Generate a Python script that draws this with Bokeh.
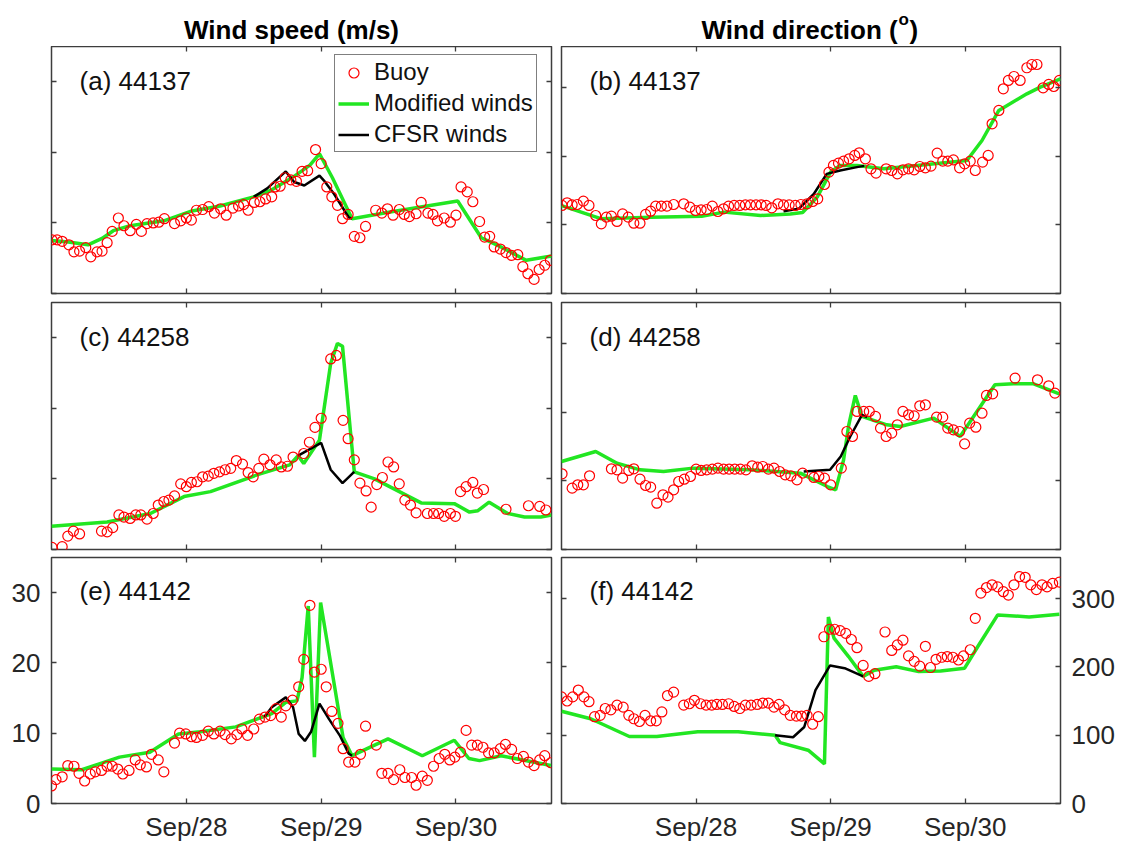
from bokeh.plotting import figure
from bokeh.models import Range1d, LinearAxis, FixedTicker, Legend, LegendItem, Label
from bokeh.layouts import column, row
from bokeh.embed import file_html
from bokeh.resources import INLINE
from bokeh.core.properties import value

FONT = "Liberation Sans"
FRAME = "#3d3d3d"
TICK_TEXT = "#262626"
RED = "#ff0000"
GREEN = "#22e622"

# time axis: hours since 27 Sep 00:00
tick_hours = [24, 48, 72]
tick_labels = ["Sep/28", "Sep/29", "Sep/30"]
speed_ticks = [0, 10, 20, 30]
dir_ticks = [0, 100, 200, 300]
stations = ["44137", "44258", "44142"]

# ---------------- station 44137 ----------------
buoy_t_44137_spd = [0.1, 1.0, 1.9, 3.1, 4.0, 5.0, 6.1, 7.0, 8.1, 9.0,
                    9.9, 10.8, 11.9, 12.9, 14.0, 15.1, 16.0, 17.0, 18.1, 19.1,
                    20.1, 21.9, 23.0, 24.0, 24.9, 25.8, 26.9, 28.0, 29.0, 30.1,
                    31.1, 32.3, 33.3, 34.2, 35.0, 36.1, 37.1, 38.1, 39.2, 39.8,
                    40.7, 41.6, 42.6, 43.6, 44.6, 45.6, 47.0, 48.0, 49.0, 49.9,
                    50.9, 51.8, 52.8, 53.9, 54.9, 55.9, 57.7, 58.8, 59.8, 60.8,
                    61.9, 62.8, 63.7, 64.9, 65.8, 67.0, 67.9, 68.7, 69.9, 71.0,
                    72.0, 72.9, 74.0, 75.0, 76.2, 77.1, 78.0, 78.8, 79.9, 80.9,
                    81.9, 83.0, 83.9, 84.8, 85.9, 86.8, 87.8, 88.8]
buoy_spd_44137 = [7.6, 7.6, 7.4, 6.9, 5.9, 6.0, 6.5, 5.2, 5.9, 6.0,
                  7.2, 8.8, 10.7, 9.6, 8.9, 9.8, 8.8, 9.9, 10.0, 10.1,
                  10.6, 9.9, 10.3, 10.7, 10.4, 11.8, 11.9, 12.3, 11.4, 12.0,
                  11.1, 12.1, 12.4, 12.6, 11.8, 12.9, 13.0, 13.4, 13.7, 15.1,
                  15.2, 16.4, 16.1, 15.9, 17.3, 17.4, 20.4, 18.4, 15.1, 13.7,
                  12.5, 10.6, 11.2, 8.1, 7.9, 9.5, 11.8, 11.4, 12.0, 11.1,
                  11.9, 11.2, 10.9, 11.3, 12.9, 11.4, 11.2, 10.3, 10.7, 10.1,
                  11.1, 15.1, 14.4, 13.0, 10.2, 8.0, 8.1, 6.6, 6.3, 5.8,
                  5.4, 5.5, 3.8, 2.8, 2.0, 3.4, 4.0, 4.7]
mod_t_44137_spd = [0, 3, 6.5, 9, 11, 14, 20, 25, 30, 36, 39, 43, 46, 47.7,
                   50, 53.5, 60, 66, 72.3, 76.5, 80, 84.5, 89]
mod_spd_44137 = [7.5, 7.3, 6.9, 7.8, 8.9, 9.6, 10.3, 11.7, 12.4, 13.7, 14.6, 16.5, 18.2, 19.8,
                 16.4, 10.6, 11.5, 12.3, 13.1, 7.9, 6.6, 4.7, 5.3]
cfsr_t_44137_spd = [36, 38.4, 41.7, 43.2, 45, 47.7, 48.5, 50.3, 52.9, 53.5]
cfsr_spd_44137 = [13.7, 14.9, 17.3, 15.8, 15.3, 16.7, 16.0, 14.1, 10.8, 10.6]

buoy_t_44137_dir = [0.1, 1.0, 1.9, 2.8, 3.9, 4.9, 6.1, 7.1, 8.0, 8.9,
                    9.9, 10.9, 11.9, 12.9, 14.0, 15.0, 15.9, 16.8, 17.8, 18.8,
                    20.0, 21.8, 22.9, 23.9, 24.9, 25.9, 26.9, 27.9, 28.9, 29.8,
                    30.8, 31.8, 32.8, 33.7, 34.7, 35.6, 36.5, 37.5, 38.6, 39.6,
                    40.6, 41.7, 42.7, 43.8, 44.8, 45.7, 46.9, 47.7, 48.5, 49.4,
                    50.3, 51.3, 52.3, 53.1, 54.2, 55.2, 56.1, 57.9, 58.9, 59.9,
                    60.9, 61.9, 62.9, 63.9, 64.9, 65.9, 67.0, 68.0, 68.9, 69.9,
                    71.0, 71.9, 72.9, 73.8, 75.1, 76.1, 76.8, 78.0, 78.8, 79.7,
                    80.7, 81.8, 83.0, 83.9, 84.8, 85.9, 86.9, 87.8, 88.8]
buoy_dir_44137 = [128.3, 132.2, 129.2, 129.7, 134.6, 128.3, 113.7, 101.5, 111.3, 112.7,
                  105.0, 116.1, 111.3, 102.5, 102.5, 115.2, 120.0, 127.3, 127.3, 127.3,
                  129.7, 130.7, 125.8, 121.0, 122.0, 122.4, 127.3, 119.5, 123.4, 127.3,
                  128.3, 128.3, 129.2, 129.2, 129.2, 129.2, 128.3, 124.9, 130.7, 129.2,
                  129.2, 128.3, 129.7, 130.7, 134.1, 138.0, 158.9, 176.9, 186.6, 190.0,
                  192.9, 196.3, 201.2, 205.1, 196.3, 181.7, 175.4, 181.7, 179.3, 174.4,
                  180.3, 181.7, 180.3, 185.1, 183.2, 185.6, 204.6, 192.9, 192.9, 194.8,
                  183.2, 189.0, 192.9, 179.3, 191.5, 201.2, 247.3, 266.8, 298.3, 310.5,
                  316.3, 310.5, 329.0, 333.8, 333.8, 299.8, 304.7, 301.7, 310.5]
mod_t_44137_dir = [0, 7, 16, 25, 29, 35.5, 40.8, 43, 45.6, 48, 49.7, 52.7, 57.5,
                   63.4, 72.3, 75, 78, 83, 85.4, 89]
mod_dir_44137 = [128, 109, 111, 112.7, 118.6, 113.7, 116, 118, 140.4, 177, 186.6, 186.6, 181.7,
                 186.6, 193.9, 223, 266.8, 291, 300.8, 313]
cfsr_t_44137_dir = [39.6, 42.3, 45, 47.3, 49.7, 52.7, 54]
cfsr_dir_44137 = [120, 123.4, 145, 174.4, 179.3, 184.2, 186]

# ---------------- station 44258 ----------------
buoy_t_44258_spd = [0.1, 1.9, 2.9, 3.9, 5.0, 8.9, 9.9, 10.9, 12.0, 12.9,
                    14.0, 15.0, 15.9, 17.0, 18.1, 19.0, 20.0, 20.9, 21.9, 23.0,
                    24.0, 24.9, 25.9, 26.9, 27.9, 28.9, 29.9, 30.9, 31.9, 32.9,
                    34.0, 35.0, 35.9, 36.9, 37.8, 38.9, 40.0, 40.9, 42.0, 43.0,
                    44.9, 45.9, 46.9, 48.0, 49.7, 50.7, 51.9, 52.8, 53.9, 54.9,
                    56.0, 56.9, 57.9, 58.9, 59.9, 60.9, 61.9, 62.9, 63.9, 64.9,
                    66.9, 68.0, 68.9, 69.9, 71.0, 71.9, 72.8, 73.8, 75.0, 75.8,
                    76.9, 80.9, 84.9, 86.9, 88.0]
buoy_spd_44258 = [0.3, 0.4, 1.9, 2.6, 2.2, 2.6, 2.5, 3.1, 4.9, 4.6,
                  4.4, 4.9, 4.9, 4.3, 5.1, 6.3, 6.8, 7.0, 7.6, 9.3,
                  8.9, 9.5, 9.6, 10.3, 10.4, 10.8, 11.0, 11.3, 11.5, 12.6,
                  12.1, 10.9, 10.3, 11.5, 12.8, 12.0, 12.7, 11.7, 11.8, 13.1,
                  13.6, 15.2, 17.3, 18.6, 27.0, 27.5, 18.3, 15.7, 12.7, 9.4,
                  8.3, 6.0, 9.2, 10.2, 12.4, 11.7, 9.3, 7.0, 6.3, 5.2,
                  5.1, 5.1, 5.1, 4.7, 5.1, 4.7, 8.2, 8.9, 9.5, 8.0,
                  8.5, 5.7, 6.2, 6.1, 5.6]
mod_t_44258_spd = [0, 9.9, 17.6, 23.6, 28.3, 36.7, 42.4, 43.9, 44.9, 47.7, 49.7, 50.9,
                   51.8, 53.3, 53.9, 57.5, 65.8, 71.7, 74.4, 75.9, 77.9, 81.2, 84.2, 87.1, 89]
mod_spd_44258 = [3.3, 3.9, 5.1, 7.5, 8.2, 10.6, 12.0, 13.3, 12.2, 15.5, 26.4, 29.2,
                 28.8, 16.0, 11.0, 10.0, 6.6, 6.5, 5.3, 5.5, 6.7, 5.1, 4.6, 4.6, 4.9]
cfsr_t_44258_spd = [43.9, 48.0, 49.7, 51.8, 53.6, 53.9]
cfsr_spd_44258 = [13.3, 15.1, 11.3, 9.4, 10.8, 11.0]

buoy_t_44258_dir = [0.1, 1.9, 2.9, 3.9, 5.0, 8.9, 9.9, 10.9, 12.0, 12.9,
                    14.0, 15.0, 15.9, 17.0, 18.1, 19.0, 20.0, 20.9, 21.9, 23.0,
                    24.0, 24.9, 25.9, 26.9, 27.9, 28.9, 29.9, 30.9, 31.9, 32.9,
                    34.0, 35.0, 35.9, 36.9, 37.9, 38.9, 39.9, 40.9, 42.0, 43.0,
                    45.0, 45.9, 46.9, 48.0, 49.9, 50.9, 51.9, 52.7, 53.9, 54.9,
                    56.0, 56.9, 57.9, 58.9, 59.9, 60.9, 61.9, 62.9, 63.9, 64.9,
                    66.9, 68.0, 68.9, 69.9, 71.0, 71.9, 72.8, 73.9, 75.0, 75.8,
                    76.9, 80.9, 84.9, 86.9, 88.0]
buoy_dir_44258 = [110.3, 89.4, 94.3, 94.3, 107.4, 117.6, 116.1, 104.0, 115.2, 117.6,
                  102.5, 93.3, 90.9, 67.5, 79.7, 76.3, 87.0, 99.1, 102.5, 106.4,
                  117.1, 115.2, 116.1, 117.1, 118.6, 117.1, 117.1, 117.1, 117.1, 116.1,
                  122.0, 120.0, 121.0, 117.1, 118.6, 113.7, 108.8, 107.4, 101.5, 111.3,
                  105.0, 106.4, 104.0, 94.3, 118.6, 172.0, 164.7, 201.2, 201.2, 201.2,
                  193.9, 176.9, 164.7, 169.6, 181.7, 201.2, 196.3, 194.8, 209.4, 210.9,
                  192.9, 192.9, 176.9, 174.4, 172.0, 154.0, 184.2, 178.3, 198.7, 224.5,
                  226.9, 249.8, 247.3, 238.6, 227.9]
mod_t_44258_dir = [0, 6.1, 9.9, 14, 18.2, 23.5, 33.7, 42.6, 47.4, 48.9, 50.3, 51.2,
                   52.4, 53.6, 58, 60.4, 66.4, 71.1, 74.7, 77.3, 80.6, 84.2, 88.8]
mod_dir_44258 = [128.3, 142.9, 125.8, 116.1, 113.7, 118.6, 116.1, 111.3, 91.8, 87, 130, 180,
                 224.5, 193.9, 181.7, 179.3, 191.5, 164.7, 208.4, 240, 241.5, 241.5, 226.9]
cfsr_t_44258_dir = [43.2, 47.9, 49.8, 51.5, 53.6, 54.5]
cfsr_dir_44258 = [113.7, 116.1, 135.6, 164.7, 196.3, 193]

# ---------------- station 44142 ----------------
buoy_t_44142_spd = [0.0, 0.8, 1.9, 2.9, 4.0, 4.9, 5.9, 6.9, 7.8, 8.9,
                    9.9, 10.8, 11.8, 12.7, 13.8, 14.9, 15.8, 16.9, 17.8, 19.0,
                    20.0, 21.9, 22.8, 23.9, 24.9, 25.8, 26.9, 27.9, 28.9, 30.0,
                    30.9, 32.0, 33.0, 33.9, 34.9, 36.0, 37.0, 38.0, 39.0, 40.0,
                    40.9, 41.7, 42.9, 44.0, 44.9, 46.0, 46.8, 48.0, 48.9, 49.9,
                    51.0, 51.9, 52.9, 54.0, 55.0, 55.9, 57.8, 58.8, 59.9, 60.9,
                    62.0, 62.9, 64.1, 64.9, 66.0, 66.9, 68.0, 69.0, 70.0, 70.9,
                    71.8, 72.8, 73.8, 74.8, 75.8, 76.8, 77.8, 78.8, 79.9, 80.8,
                    81.9, 82.9, 84.0, 84.9, 85.9, 86.9, 87.8, 88.9]
buoy_spd_44142 = [2.5, 3.4, 3.8, 5.4, 5.3, 4.3, 3.2, 4.2, 4.5, 4.7,
                  5.3, 5.3, 4.9, 4.2, 4.7, 6.2, 5.5, 5.2, 7.0, 6.2,
                  4.5, 8.6, 10.0, 9.9, 9.5, 9.4, 9.7, 10.3, 9.9, 10.3,
                  9.8, 9.2, 9.8, 10.6, 9.7, 10.6, 12.0, 12.3, 12.5, 13.5,
                  12.3, 13.9, 14.7, 16.6, 20.5, 28.2, 18.7, 19.1, 16.6, 13.1,
                  11.4, 7.8, 5.9, 5.9, 7.0, 11.0, 8.3, 4.3, 4.3, 3.4,
                  4.8, 3.7, 3.7, 2.6, 3.9, 3.3, 5.3, 6.4, 7.0, 6.2,
                  6.6, 7.3, 10.4, 8.3, 8.3, 8.0, 7.2, 7.2, 7.8, 8.4,
                  7.7, 6.4, 6.7, 5.9, 5.4, 6.2, 6.8, 5.8]
mod_t_44142_spd = [0, 5.4, 12.1, 17.5, 22.6, 26.5, 32.8, 39.2, 41.7, 43.7, 44.6, 45.7,
                   46.8, 47.9, 51.9, 53.5, 59.9, 66.0, 71.7, 74.3, 76.2, 80.0, 88.9]
mod_spd_44142 = [4.9, 4.8, 6.6, 7.3, 9.9, 10.2, 10.9, 12.8, 14.4, 14.6, 17.9, 28.1,
                 6.6, 28.6, 9.4, 6.8, 9.2, 6.8, 9.0, 6.4, 6.1, 6.8, 5.4]
cfsr_t_44142_spd = [37.9, 39.2, 41.7, 43.0, 44.0, 45.1, 46.2, 47.7, 49.4, 51.3, 52.9, 53.5]
cfsr_spd_44142 = [12.3, 13.7, 15.1, 13.7, 9.9, 8.9, 10.2, 14.2, 12.0, 9.7, 7.1, 6.8]

buoy_t_44142_dir = [0.0, 1.0, 2.0, 3.0, 4.0, 4.9, 5.9, 6.9, 7.8, 8.8,
                    9.9, 11.0, 12.0, 12.9, 13.9, 14.9, 15.9, 16.9, 17.9, 18.9,
                    20.0, 21.8, 22.8, 23.7, 24.8, 25.8, 26.8, 27.7, 28.7, 29.8,
                    30.8, 31.8, 32.8, 33.8, 34.9, 35.9, 36.9, 37.9, 38.8, 39.8,
                    40.8, 41.9, 42.8, 43.8, 44.8, 45.8, 46.8, 47.8, 48.7, 49.7,
                    50.7, 51.7, 52.7, 53.8, 54.8, 55.9, 57.7, 58.9, 59.9, 60.9,
                    61.9, 62.9, 63.9, 64.9, 65.8, 66.8, 67.8, 68.8, 69.8, 70.8,
                    71.7, 72.9, 73.8, 74.8, 75.8, 76.8, 77.8, 78.8, 79.7, 80.7,
                    81.7, 82.7, 83.7, 84.7, 85.7, 86.6, 87.6, 88.8]
buoy_dir_44142 = [156, 150, 156, 166, 156, 149, 127, 129, 139, 137,
                  144, 141, 129, 124, 120, 129, 121, 121, 134, 158,
                  163, 144, 146, 151, 146, 144, 144, 145, 145, 146,
                  142, 139, 144, 144, 145, 147, 147, 141, 145, 137,
                  129, 128, 128, 129, 116, 127, 244, 255, 255, 253,
                  249, 240, 228, 202, 186, 190, 251, 224, 232, 239,
                  216, 208, 201, 230, 199, 211, 214, 215, 214, 210,
                  216, 225, 271, 308, 316, 320, 317, 310, 305, 320,
                  332, 331, 320, 313, 320, 317, 322, 324]
mod_t_44142_dir = [0, 5.2, 12.1, 17.0, 24.3, 31.5, 38.1, 39.0, 44.0, 46.9, 47.6, 48.6,
                   51.2, 53.8, 55.8, 59.7, 63.7, 67.6, 71.9, 74.2, 77.8, 83.4, 88.8]
mod_dir_44142 = [135, 124, 98, 98, 105, 105, 100, 89, 78, 58, 273, 242,
                 215, 186, 195, 200, 193, 194, 198, 229, 276, 273, 277]
cfsr_t_44142_dir = [38.1, 41.3, 43.3, 45.3, 47.9, 50.5, 53.8]
cfsr_dir_44142 = [100, 97, 112, 166, 202, 198, 186]

panels = [
    # (letter, station, kind, buoy_t, buoy_v, mod_t, mod_v, cfsr_t, cfsr_v)
    ("a", stations[0], "spd", buoy_t_44137_spd, buoy_spd_44137, mod_t_44137_spd, mod_spd_44137, cfsr_t_44137_spd, cfsr_spd_44137),
    ("b", stations[0], "dir", buoy_t_44137_dir, buoy_dir_44137, mod_t_44137_dir, mod_dir_44137, cfsr_t_44137_dir, cfsr_dir_44137),
    ("c", stations[1], "spd", buoy_t_44258_spd, buoy_spd_44258, mod_t_44258_spd, mod_spd_44258, cfsr_t_44258_spd, cfsr_spd_44258),
    ("d", stations[1], "dir", buoy_t_44258_dir, buoy_dir_44258, mod_t_44258_dir, mod_dir_44258, cfsr_t_44258_dir, cfsr_dir_44258),
    ("e", stations[2], "spd", buoy_t_44142_spd, buoy_spd_44142, mod_t_44142_spd, mod_spd_44142, cfsr_t_44142_spd, cfsr_spd_44142),
    ("f", stations[2], "dir", buoy_t_44142_dir, buoy_dir_44142, mod_t_44142_dir, mod_dir_44142, cfsr_t_44142_dir, cfsr_dir_44142),
]

ROW_BORDERS = [(0, 4, 247), (5, 4, 247), (4, 47, 246)]  # top, bottom, frame height


def add_axis(p, side, ticks, show_labels, overrides=None):
    ax = LinearAxis(ticker=FixedTicker(ticks=ticks), axis_line_color=None,
                    major_tick_in=5, major_tick_out=0,
                    major_tick_line_color=FRAME, major_tick_line_width=1.3,
                    minor_tick_line_color=None,
                    major_label_text_font=FONT, major_label_text_color=TICK_TEXT)
    if show_labels:
        ax.major_label_text_font_size = "26px"
        ax.major_label_standoff = 11 if side in ("left", "right") else 8
        if overrides:
            ax.major_label_overrides = overrides
    else:
        # tick marks only: mirrored ticks on the opposite frame edges
        ax.major_label_overrides = {t: "" for t in ticks}
        ax.major_label_text_font_size = "1px"
        ax.major_label_standoff = 0
    p.add_layout(ax, side)


def make_panel(idx):
    letter, station, kind, bt, bv, mt, mv, ct, cv = panels[idx]
    r, c = divmod(idx, 2)
    top, bottom, frame_h = ROW_BORDERS[r]
    left_col = c == 0
    ymax = 35 if kind == "spd" else 360
    yticks = speed_ticks if kind == "spd" else dir_ticks
    p = figure(width=556 if left_col else 572, height=top + frame_h + bottom,
               x_range=Range1d(0, 89), y_range=Range1d(0, ymax),
               x_axis_type=None, y_axis_type=None,
               toolbar_location=None, output_backend="svg",
               min_border_left=51 if left_col else 5,
               min_border_right=5 if left_col else 68,
               min_border_top=top, min_border_bottom=bottom)
    p.outline_line_color = FRAME
    p.outline_line_width = 1.5
    p.background_fill_color = "white"
    p.border_fill_color = "white"

    bottom_row = r == 2
    x_over = {h: lab for h, lab in zip(tick_hours, tick_labels)}
    add_axis(p, "below", tick_hours, bottom_row, x_over)
    add_axis(p, "above", tick_hours, False)
    add_axis(p, "left", yticks, bottom_row and left_col)
    add_axis(p, "right", yticks, bottom_row and not left_col)

    r_mod = p.line(mt, mv, line_color=GREEN, line_width=3.5)
    r_cfsr = p.line(ct, cv, line_color="black", line_width=2.5)
    r_buoy = p.scatter(bt, bv, marker="circle", size=10, fill_color=None,
                       line_color=RED, line_width=1.2)

    p.add_layout(Label(x=5.0, y=ymax * (1 - 34 / 247), text=f"({letter}) {station}",
                       text_font=FONT, text_font_size="26px", text_color="#111111",
                       text_baseline="alphabetic"))

    if idx == 0:
        legend = Legend(items=[LegendItem(label="Buoy", renderers=[r_buoy]),
                               LegendItem(label="Modified winds", renderers=[r_mod]),
                               LegendItem(label="CFSR winds", renderers=[r_cfsr])],
                        location=(283, 141), margin=0, padding=3, spacing=3,
                        label_height=25, glyph_height=25, glyph_width=31,
                        label_standoff=5, label_text_font=FONT,
                        label_text_font_size="24px", label_text_color="#111111",
                        border_line_color="black", border_line_width=1.3,
                        background_fill_color="white", background_fill_alpha=1.0)
        p.add_layout(legend)
    return p


# column headers
head = figure(width=1128, height=46, x_range=Range1d(0, 1128), y_range=Range1d(0, 46),
              x_axis_type=None, y_axis_type=None, toolbar_location=None,
              output_backend="svg", min_border=0)
head.outline_line_color = None
head.text(x=[291], y=[17], text=["Wind speed (m/s)"], text_font=value(FONT),
          text_font_style="bold", text_font_size="26px", text_align="center",
          text_baseline="alphabetic", text_color="black")
head.text(x=[701], y=[17], text=["Wind direction ("], text_font=value(FONT),
          text_font_style="bold", text_font_size="26px", text_align="left",
          text_baseline="alphabetic", text_color="black")
head.text(x=[898], y=[27], text=["o"], text_font=value(FONT),
          text_font_style="bold", text_font_size="17px", text_align="left",
          text_baseline="alphabetic", text_color="black")
head.text(x=[909], y=[17], text=[")"], text_font=value(FONT),
          text_font_style="bold", text_font_size="26px", text_align="left",
          text_baseline="alphabetic", text_color="black")

figs = [make_panel(i) for i in range(6)]
layout = column(head, row(figs[0], figs[1]), row(figs[2], figs[3]), row(figs[4], figs[5]))

open("out.html", "w").write(file_html(layout, INLINE))
